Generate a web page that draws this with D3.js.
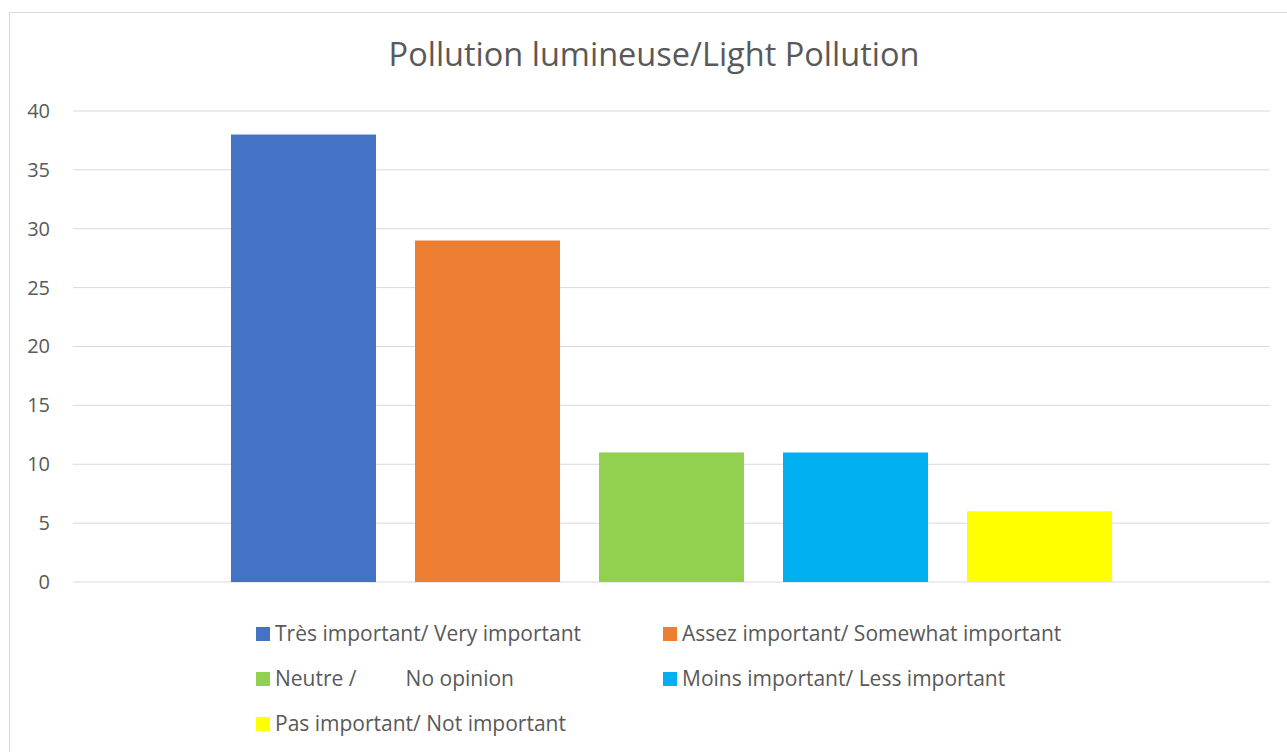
<!DOCTYPE html>
<html>
<head>
<meta charset="utf-8">
<script src="https://cdn.jsdelivr.net/npm/d3@7"></script>
<style>
  body { margin: 0; background: #fff; }
  svg { display: block; font-family: "Open Sans", sans-serif; }
</style>
</head>
<body>
<script>
// data
const series = ["Très important/ Very important", "Assez important/ Somewhat important",
                "Neutre /         No opinion", "Moins important/ Less important",
                "Pas important/ Not important"];
const values = [38, 29, 11, 11, 6];
const colors = ["#4472C4", "#ED7D31", "#92D050", "#00B0F0", "#FFFF00"];
const yTicks = [0, 5, 10, 15, 20, 25, 30, 35, 40];

const width = 1287, height = 752;

const svg = d3.select("body").append("svg")
    .attr("width", width)
    .attr("height", height);

// chart border
svg.append("rect")
    .attr("x", 9.5).attr("y", 12.5)
    .attr("width", 1300).attr("height", 760)
    .attr("fill", "#fff")
    .attr("stroke", "#d9d9d9");

//scales
const plot = {left: 73, right: 1270, top: 111, bottom: 582};

const xCat = d3.scaleBand()
    .domain(["cat"])
    .range([plot.left, plot.right])
    .paddingOuter(0.1793);

const xSeries = d3.scaleBand()
    .domain(series)
    .range([0, xCat.bandwidth()])
    .paddingInner(39 / 184)
    .paddingOuter(0);

const yScale = d3.scaleLinear()
    .domain([0, 40])
    .range([plot.bottom, plot.top]);

// gridlines
svg.append("g")
    .selectAll("line")
    .data(yTicks)
    .join("line")
    .attr("x1", plot.left).attr("x2", plot.right)
    .attr("y1", d => yScale(d)).attr("y2", d => yScale(d))
    .attr("stroke", "#d9d9d9")
    .attr("stroke-width", 1);

// y axis labels
const yAxis = d3.axisLeft(yScale).tickValues(yTicks).tickSize(0).tickPadding(0);
const yg = svg.append("g")
    .attr("transform", `translate(50,0)`)
    .call(yAxis);
yg.select(".domain").remove();
yg.selectAll("text")
    .attr("fill", "#595959")
    .attr("font-size", 20)
    .attr("font-family", "Open Sans, sans-serif");

// bars
svg.append("g")
    .selectAll("rect")
    .data(series)
    .join("rect")
    .attr("x", d => xCat("cat") + xSeries(d))
    .attr("width", xSeries.bandwidth())
    .attr("y", (d, i) => yScale(values[i]))
    .attr("height", (d, i) => yScale(0) - yScale(values[i]))
    .attr("fill", (d, i) => colors[i]);

// title
svg.append("text")
    .attr("x", 654)
    .attr("y", 66)
    .attr("text-anchor", "middle")
    .attr("font-size", 32.5)
    .attr("fill", "#595959")
    .text("Pollution lumineuse/Light Pollution");

// legend
const legend = svg.append("g");
const items = legend.selectAll("g")
    .data(series)
    .join("g")
    .attr("transform", (d, i) => `translate(${i % 2 === 0 ? 256 : 663},${627 + Math.floor(i / 2) * 45})`);

items.append("rect")
    .attr("width", 14).attr("height", 14)
    .attr("fill", (d, i) => colors[i]);

items.append("text")
    .attr("x", 19)
    .attr("y", 14)
    .attr("font-size", 21)
    .attr("fill", "#595959")
    .style("white-space", "pre")
    .text(d => d);
</script>
</body>
</html>
